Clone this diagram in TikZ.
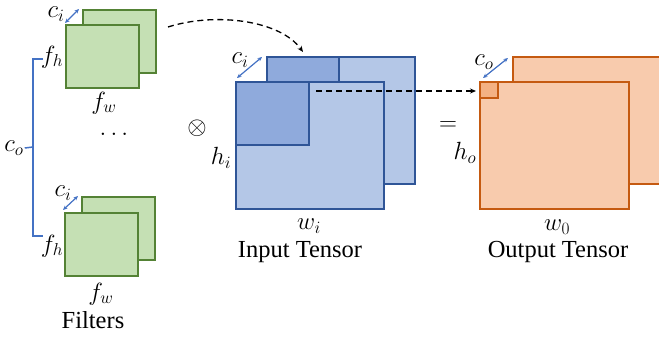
\documentclass[tikz,border=0pt]{standalone}
\usepackage{amsmath,amssymb}
\usepackage{fontspec}
\setmainfont{Liberation Serif}
\usepackage{tikz}
\usetikzlibrary{positioning,arrows.meta}

\definecolor{grnfill}{HTML}{C5E0B4}
\definecolor{grnline}{HTML}{548235}
\definecolor{bluefill}{HTML}{B4C7E7}
\definecolor{bluedark}{HTML}{8FAADC}
\definecolor{blueline}{HTML}{2F5597}
\definecolor{orfill}{HTML}{F8CBAD}
\definecolor{ordark}{HTML}{F4B183}
\definecolor{orline}{HTML}{C55A11}
\definecolor{dimblue}{HTML}{4472C4}

\tikzset{
  plate/.style={line width=1.5pt, inner sep=0pt, outer sep=0pt, anchor=north west},
  filt/.style={plate, draw=grnline, fill=grnfill, minimum width=73pt, minimum height=63pt},
  inp/.style={plate, draw=blueline, fill=bluefill, minimum width=148pt, minimum height=127pt},
  outp/.style={plate, draw=orline, fill=orfill, minimum width=149pt, minimum height=127pt},
  dimarrow/.style={dimblue, line width=1.2pt, {Stealth[length=4.5pt,width=4pt]}-{Stealth[length=4.5pt,width=4pt]}},
  lbl/.style={inner sep=0pt, font=\fontsize{23}{26}\selectfont},
  title/.style={inner sep=0pt, font=\fontsize{24.5}{28}\selectfont},
  dashlink/.style={dash pattern=on 6pt off 4pt, line width=1.3pt, -{Stealth[length=6pt,width=5pt]}},
}

\begin{document}
\begin{tikzpicture}[x=1pt,y=1pt,yscale=-1,xscale=1]
\useasboundingbox (0,0) rectangle (659,337);

%Filter 1
\node [filt] (fback1) at (83,10) {};
\node [filt] (ffront1) at (66,25) {};
%Filter 2
\node [filt] (fback2) at (82,197) {};
\node [filt] (ffront2) at (65,213) {};

%Input tensor
\node [inp] (iback) at (267,57) {};
\node [plate, draw=blueline, fill=bluedark, minimum width=72pt, minimum height=63pt] (ipatchb) at (267,57) {};
\node [inp] (ifront) at (236,82) {};
\node [plate, draw=blueline, fill=bluedark, minimum width=73pt, minimum height=63pt] (ipatchf) at (236,82) {};

%Output tensor
\node [outp] (oback) at (513,57) {};
\node [outp] (ofront) at (480,82) {};
\node [plate, draw=orline, fill=ordark, minimum width=18pt, minimum height=16pt] (opatch) at (480,82) {};

%Channel arrows
\draw [dimarrow] (65,23) -- (79,9);
\draw [dimarrow] (63,210) -- (78,196);
\draw [dimarrow] (237,78) -- (262,57);
\draw [dimarrow] (483,78) -- (508,58);

%Bracket over filters
\draw [dimblue, line width=1.5pt] (43,59) -- (33,59) -- (33,236) -- (43,236);

% Text Node
\node [lbl] (ci1) at (56,14) {$c_i$};
\node [lbl] (fh1) at (52,57) {$f_h$};
\node [lbl] (fw1) at (104,103) {$f_w$};
\node [lbl] (dots) at (116,134) {$\dots$};
\node [lbl] (co) at (14,148) {$c_o$};
\node [lbl] (ci2) at (63,193) {$c_i$};
\node [lbl] (fh2) at (52,246) {$f_h$};
\node [lbl] (fw2) at (101,294) {$f_w$};
\node [title] (filters) at (93,320) {Filters};
\draw [dimblue, line width=1.5pt] ([xshift=1pt]co.east) -- (33,147);

\node [inner sep=0.75pt, font=\fontsize{28}{30}\selectfont] (conv) at (197,128) {$\otimes$};
\node [lbl] (ci3) at (240,60) {$c_i$};
\node [lbl] (hi) at (221,158) {$h_i$};
\node [lbl] (wi) at (309,226) {$w_i$};
\node [title] (intitle) at (300,252) {Input Tensor};

\node [inner sep=0.75pt, font=\fontsize{28}{30}\selectfont] (eq) at (448,126) {$=$};
\node [lbl] (co2) at (484,62) {$c_o$};
\node [lbl] (ho) at (465,153) {$h_o$};
\node [lbl] (wo) at (557,227) {$w_0$};
\node [title] (outtitle) at (558,252) {Output Tensor};

%Dashed connectors
\coordinate (pick) at (168,27);
\coordinate (drop) at (303,52);
\coordinate (slide) at (316,91);
\draw [dashlink] (pick) .. controls (215,12) and (280,20) .. (drop);
\draw [dashlink, shorten >=4pt] (slide) -- (slide -| opatch.west);
\end{tikzpicture}
\end{document}
